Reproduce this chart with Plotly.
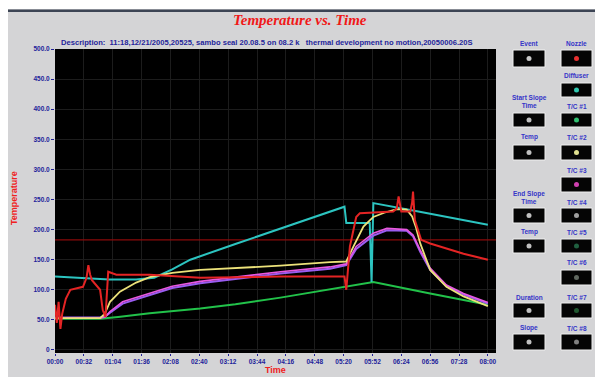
import plotly.graph_objects as go

# ---------------- data ----------------
x_ticks_sec = [0, 32, 64, 96, 128, 160, 192, 224, 256, 288, 320, 352, 384, 416, 448, 480]
x_tick_labels = ["00:00", "00:32", "01:04", "01:36", "02:08", "02:40", "03:12", "03:44",
                 "04:16", "04:48", "05:20", "05:52", "06:24", "06:56", "07:28", "08:00"]
y_ticks = [0, 50, 100, 150, 200, 250, 300, 350, 400, 450, 500]
y_tick_labels = ["0", "50.0", "100.0", "150.0", "200.0", "250.0", "300.0", "350.0", "400.0", "450.0", "500.0"]

t_diffuser = [0, 30, 60, 90, 110, 130, 150, 200, 250, 300, 321, 323, 349, 351, 353, 400, 450, 480]
diffuser = [122, 120, 117, 117, 120, 134, 150, 176, 202, 228, 238, 211, 211, 113, 244, 231, 216, 208]

t_tc1 = [0, 50, 70, 105, 161, 200, 250, 300, 353, 416, 480]
tc1 = [52, 52, 55, 61, 69, 76, 87, 100, 113, 94, 75]

t_tc2 = [0, 50, 55, 61, 72, 90, 105, 130, 161, 200, 250, 305, 323, 331, 342, 353, 365, 379, 390,
         396, 400, 405, 416, 434, 453, 480]
tc2 = [53, 53, 60, 80, 97, 112, 121, 128, 133, 136, 140, 146, 147, 172, 205, 221, 228, 234, 233,
       222, 205, 177, 133, 105, 89, 73]

t_tc3 = [0, 50, 56, 61, 75, 105, 130, 161, 200, 250, 305, 323, 334, 353, 368, 390, 397, 405, 416,
         434, 453, 480]
tc3 = [53, 53, 55, 64, 80, 94, 106, 114, 121, 130, 138, 143, 172, 194, 202, 200, 191, 166, 136,
       108, 94, 79]
tc4 = [54, 54, 56, 62, 77, 91, 103, 111, 118, 127, 135, 141, 168, 190, 199, 198, 189, 163, 133,
       106, 92, 77]

t_nozzle = [0, 2, 4, 6, 8, 12, 17, 31, 35, 37, 39, 41, 50, 53, 56, 59, 68, 105, 161, 250, 321, 323,
            327, 334, 338, 375, 379, 381, 384, 394, 396, 397, 399, 406, 416, 453, 480]
nozzle = [75, 45, 80, 35, 60, 85, 100, 105, 120, 141, 125, 116, 100, 66, 55, 130, 125, 125, 120,
          122, 122, 100, 172, 221, 227, 230, 235, 255, 230, 230, 245, 263, 216, 183, 177, 160, 150]

t_limit = [0, 489]
limit = [183, 183]

description = ("Description:  11:18,12/21/2005,20525, sambo seal 20.08.5 on 08.2 k   "
               "thermal development no motion,20050006.20S")

# ---------------- layout helpers (page pixel coordinates) ----------------
W, H = 595, 377
PL, PR, PT, PB = 55, 496, 49, 353   # plot area in page pixels


def px(x):
    return (x - PL) / (PR - PL)


def py(y):
    return (PB - y) / (PB - PT)


fig = go.Figure()


def add_line(t, v, color, width=2):
    fig.add_trace(go.Scatter(x=t, y=v, mode="lines", line=dict(color=color, width=width),
                             showlegend=False, hoverinfo="skip"))


add_line(t_limit, limit, "#8a0a0a", 1.2)
add_line(t_tc1, tc1, "#22c24a", 2)
add_line(t_diffuser, diffuser, "#2cc4c0", 2)
add_line(t_tc3, tc4, "#9a5cf0", 2)
add_line(t_tc3, tc3, "#e858e0", 1.6)
add_line(t_tc2, tc2, "#ece27a", 1.8)
add_line(t_nozzle, nozzle, "#e42424", 2)

shapes = []
annotations = []

# white outer border (top / left) and dark top line
shapes.append(dict(type="rect", xref="paper", yref="paper", x0=px(0), x1=px(W), y0=py(0), y1=py(9),
                   fillcolor="white", line=dict(width=0), layer="above"))
shapes.append(dict(type="rect", xref="paper", yref="paper", x0=px(0), x1=px(8), y0=py(0), y1=py(H),
                   fillcolor="white", line=dict(width=0), layer="above"))
shapes.append(dict(type="rect", xref="paper", yref="paper", x0=px(8), x1=px(W), y0=py(9.5), y1=py(12),
                   fillcolor="#3c4454", line=dict(width=0), layer="above"))

label_font = dict(family="Liberation Sans", size=6.5, color="#3434c8")

indicators_left = [
    ("<b>Event</b>", 44, 50, 67, "#c8c8c8"),
    ("<b>Start Slope<br>Time</b>", 102, 113, 127, "#c0c0c0"),
    ("<b>Temp</b>", 137, 145, 160, "#c0c0c0"),
    ("<b>End Slope<br>Time</b>", 197, 208, 223, "#c0c0c0"),
    ("<b>Temp</b>", 232, 239, 253, "#c0c0c0"),
    ("<b>Duration</b>", 297, 303, 318, "#c0c0c0"),
    ("<b>Slope</b>", 328, 334, 350, "#c0c0c0"),
]
indicators_right = [
    ("<b>Nozzle</b>", 44, 50, 67, "#e83030"),
    ("<b>Diffuser</b>", 75, 83, 97, "#30c8b0"),
    ("<b>T/C #1</b>", 106, 113, 127, "#30c070"),
    ("<b>T/C #2</b>", 137, 145, 160, "#e0e090"),
    ("<b>T/C #3</b>", 170, 177, 192, "#d040b0"),
    ("<b>T/C #4</b>", 202, 208, 223, "#a0a0a0"),
    ("<b>T/C #5</b>", 232, 239, 253, "#206040"),
    ("<b>T/C #6</b>", 262, 270, 285, "#606860"),
    ("<b>T/C #7</b>", 297, 303, 318, "#205830"),
    ("<b>T/C #8</b>", 328, 334, 350, "#808080"),
]


def add_indicator(label, ly, top, bot, dot, x0, x1):
    cx = (x0 + x1) / 2
    shapes.append(dict(type="rect", xref="paper", yref="paper", x0=px(x0), x1=px(x1),
                       y0=py(bot), y1=py(top), fillcolor="#050505",
                       line=dict(color="#f0f0f0", width=1), layer="above"))
    cy = (top + bot) / 2
    shapes.append(dict(type="circle", xref="paper", yref="paper", x0=px(cx - 2.5), x1=px(cx + 2.5),
                       y0=py(cy + 2.5), y1=py(cy - 2.5), fillcolor=dot, line=dict(width=0),
                       layer="above"))
    annotations.append(dict(text=label, xref="paper", yref="paper", x=px(cx), y=py(ly),
                            xanchor="center", yanchor="middle", showarrow=False, font=label_font))


for lab, ly, top, bot, dot in indicators_left:
    add_indicator(lab, ly, top, bot, dot, 513, 545)
for lab, ly, top, bot, dot in indicators_right:
    add_indicator(lab, ly, top, bot, dot, 561, 592)

annotations.append(dict(text="<b><i>Temperature vs. Time</i></b>", xref="paper", yref="paper",
                        x=px(300), y=py(20), xanchor="center", yanchor="middle", showarrow=False,
                        font=dict(family="Liberation Serif", size=15, color="#f01818")))
annotations.append(dict(text="<b>" + description + "</b>", xref="paper", yref="paper",
                        x=px(267), y=py(42), xanchor="center", yanchor="middle", showarrow=False,
                        font=dict(family="Liberation Sans", size=7.6, color="#24249a")))
annotations.append(dict(text="<b>Temperature</b>", xref="paper", yref="paper", x=px(14), y=py(198),
                        xanchor="center", yanchor="middle", showarrow=False, textangle=-90,
                        font=dict(family="Liberation Sans", size=9, color="#f02020")))
annotations.append(dict(text="<b>Time</b>", xref="paper", yref="paper", x=px(275), y=py(370),
                        xanchor="center", yanchor="middle", showarrow=False,
                        font=dict(family="Liberation Sans", size=9, color="#f02020")))

tick_font = dict(family="Liberation Sans", size=6.5, color="#22229a")

fig.update_layout(
    width=W, height=H,
    margin=dict(l=PL, r=W - PR, t=PT, b=H - PB, pad=0),
    paper_bgcolor="#d4d4d6",
    plot_bgcolor="#000000",
    showlegend=False,
    shapes=shapes,
    annotations=annotations,
    xaxis=dict(range=[0, 489], tickmode="array", tickvals=x_ticks_sec,
               ticktext=[f"<b>{s}</b>" for s in x_tick_labels],
               showgrid=True, gridcolor="#1c1c1c", gridwidth=1, zeroline=False,
               ticks="outside", ticklen=2, tickcolor="#22229a", tickfont=tick_font,
               showline=False, fixedrange=True),
    yaxis=dict(range=[-5, 500], tickmode="array", tickvals=y_ticks,
               ticktext=[f"<b>{s}</b>" for s in y_tick_labels],
               showgrid=True, gridcolor="#1c1c1c", gridwidth=1, zeroline=False,
               ticks="outside", ticklen=3, tickcolor="#22229a", tickfont=tick_font,
               showline=False, fixedrange=True),
)

fig.write_html(
    "out.html",
    config={"displayModeBar": False, "staticPlot": True},
    post_script="document.body.style.margin='0';document.body.style.overflow='hidden';"
                "document.documentElement.style.overflow='hidden';",
)
